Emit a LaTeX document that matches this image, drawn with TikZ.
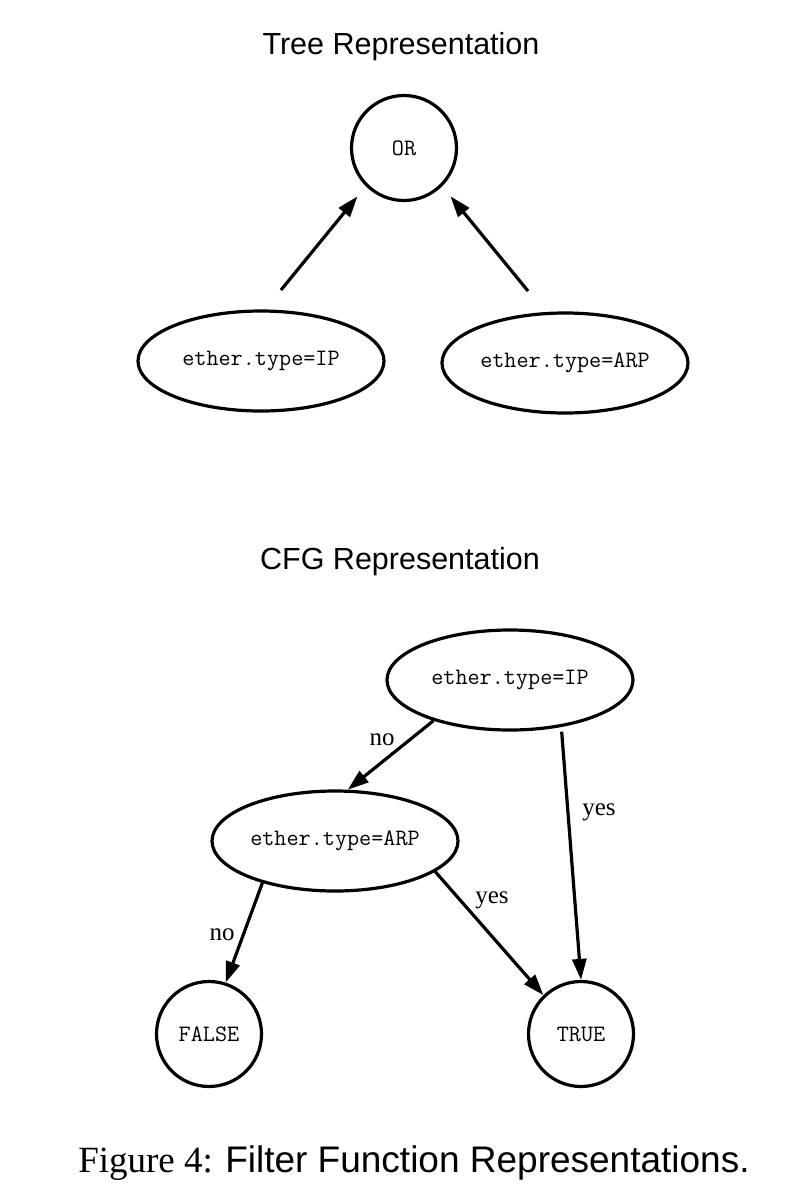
\documentclass[tikz,border=0pt]{standalone}
\usepackage{fontspec}
\setmainfont{Liberation Serif}
\newfontfamily\arialf{Liberation Sans}
\usetikzlibrary{shapes.geometric,arrows.meta}
\begin{document}
\begin{tikzpicture}[x=1pt,y=-1pt,
  ell/.style={draw, line width=3.2pt, ellipse, inner sep=0pt, minimum width=246pt, minimum height=100pt, font=\fontsize{23.5}{25}\selectfont\ttfamily},
  circ/.style={draw, line width=3.2pt, circle, inner sep=0pt, minimum size=105pt, font=\fontsize{23.5}{25}\selectfont\ttfamily},
  arr/.style={line width=3.2pt, -{Triangle[length=21pt,width=14pt]}},
  lab/.style={font=\fontsize{25}{28}\selectfont, anchor=base, inner sep=0pt},
  ttl/.style={font=\fontsize{30.5}{34}\selectfont\arialf, anchor=base, inner sep=0pt}]
\fill[white] (0,0) rectangle (794,1189);
\useasboundingbox (0,0) rectangle (794,1189);

% Tree representation
\node[ttl] (t1) at (401,54) {Tree Representation};
\node[circ] (or) at (404,148) {OR};
\node[ell] (l1) at (261,361) {ether.type=IP};
\node[ell] (l2) at (565,363) {ether.type=ARP};
\coordinate (s1) at (281,290);
\coordinate (s2) at (528,291);
\draw[arr, shorten >=13pt] (s1) -- (or.225);
\draw[arr, shorten >=13pt] (s2) -- (or.315);

% CFG representation
\node[ttl] (t2) at (400,569) {CFG Representation};
\node[ell] (ip) at (510,680) {ether.type=IP};
\node[ell] (arp) at (335,841) {ether.type=ARP};
\node[circ] (f) at (209,1034) {FALSE};
\node[circ] (t) at (581,1034) {TRUE};

\draw[arr] (ip.208) -- (arp.76);
\draw[arr] ([shift={(4,4)}]ip.315) -- (t.90);
\draw[arr] (arp.210) -- (f.72);
\draw[arr] (arp.343) -- (t.134);

\node[lab] (n1) at (382,745) {no};
\node[lab] (y1) at (599,815) {yes};
\node[lab] (n2) at (222,940) {no};
\node[lab] (y2) at (492,903) {yes};

% caption
\node[anchor=base, inner sep=0pt] (cap) at (414,1172) {\fontsize{37}{40}\selectfont Figure 4: {\arialf Filter Function Representations.}};
\end{tikzpicture}
\end{document}
